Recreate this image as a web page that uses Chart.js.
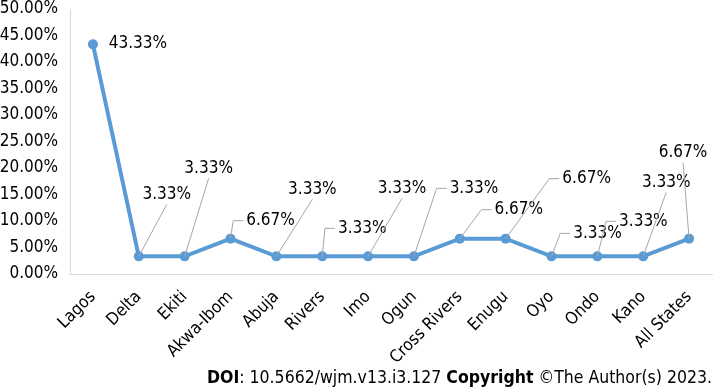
<!DOCTYPE html>
<html>
<head>
<meta charset="utf-8">
<script src="https://cdn.jsdelivr.net/npm/chart.js@4.4.1/dist/chart.umd.min.js"></script>
<style>
  html, body { margin: 0; padding: 0; background: #ffffff; }
  #wrap { position: relative; width: 717px; height: 389px; overflow: hidden; }
  canvas { display: block; }
  #doi { position: absolute; right: 5px; bottom: 2px; font-family: "DejaVu Sans Condensed", "DejaVu Sans", sans-serif; font-size: 17.5px; color: #000; white-space: nowrap; }
</style>
</head>
<body>
<div id="wrap">
  <canvas id="c" width="717" height="389"></canvas>
  <div id="doi"><b>DOI</b>: 10.5662/wjm.v13.i3.127 <b>Copyright</b> ©The Author(s) 2023.</div>
</div>
<script>
const categories = ['Lagos', 'Delta', 'Ekiti', 'Akwa-Ibom', 'Abuja', 'Rivers', 'Imo', 'Ogun', 'Cross Rivers', 'Enugu', 'Oyo', 'Ondo', 'Kano', 'All States'];
const percentValues = [43.33, 3.33, 3.33, 6.67, 3.33, 3.33, 3.33, 3.33, 6.67, 6.67, 3.33, 3.33, 3.33, 6.67];
const yTickValues = [0, 5, 10, 15, 20, 25, 30, 35, 40, 45, 50];
const yTickLabels = yTickValues.map(v => v.toFixed(2) + '%');
const dataLabels = percentValues.map(v => v.toFixed(2) + '%');

// label placement relative to each point: [dx, dy, leader type]
const labelPlacement = [
  [45, -1, 'none'], [28, -62, 'bottom'], [24, -88, 'bottom'], [40, -18, 'hook'],
  [36, -67, 'bottom'], [40, -28, 'hook'], [34, -68, 'bottom'], [60, -68, 'hook'],
  [59, -29, 'hook'], [81, -60, 'hook'], [46, -23, 'hook'], [46, -35, 'hook'],
  [23, -74, 'bottom'], [-6, -86, 'bottom']
];

const FONT = '"DejaVu Sans Condensed", "DejaVu Sans", sans-serif';

const labelPlugin = {
  id: 'leaderLabels',
  afterDatasetsDraw(chart) {
    const ctx = chart.ctx;
    const meta = chart.getDatasetMeta(0);
    ctx.save();
    ctx.font = '17px ' + FONT;
    ctx.textBaseline = 'middle';
    ctx.textAlign = 'center';
    meta.data.forEach((pt, i) => {
      const [dx, dy, type] = labelPlacement[i];
      const cx = pt.x + dx, cy = pt.y + dy;
      const w = ctx.measureText(dataLabels[i]).width;
      const left = cx - w / 2;
      ctx.strokeStyle = '#a6a6a6';
      ctx.lineWidth = 1;
      if (type === 'bottom') {
        ctx.beginPath();
        ctx.moveTo(pt.x, pt.y);
        ctx.lineTo(cx, cy + 10);
        ctx.stroke();
      } else if (type === 'hook') {
        ctx.beginPath();
        ctx.moveTo(pt.x, pt.y);
        ctx.lineTo(left - 13, cy);
        ctx.lineTo(left - 3, cy);
        ctx.stroke();
      }
      ctx.fillStyle = '#000000';
      ctx.fillText(dataLabels[i], cx, cy);
    });
    ctx.restore();
  }
};

new Chart(document.getElementById('c'), {
  type: 'line',
  data: {
    labels: categories,
    datasets: [{
      data: percentValues,
      borderColor: '#5b9bd5',
      backgroundColor: '#5b9bd5',
      borderWidth: 4,
      pointRadius: 5,
      pointBorderWidth: 0,
      pointBackgroundColor: '#5b9bd5',
      tension: 0,
      fill: false,
      clip: false
    }]
  },
  options: {
    responsive: false,
    animation: false,
    layout: { padding: { top: 9, right: 0, bottom: 0, left: 0 } },
    plugins: { legend: { display: false }, tooltip: { enabled: false } },
    scales: {
      x: {
        offset: true,
        grid: { display: false, drawTicks: false },
        border: { display: true, color: '#d9d9d9', width: 1 },
        ticks: {
          color: '#000',
          font: { family: FONT, size: 17 },
          maxRotation: 45, minRotation: 45,
          autoSkip: false,
          padding: 13
        },
        afterFit(scale) { scale.height = 115; }
      },
      y: {
        min: 0, max: 50,
        grid: { display: false, drawTicks: false },
        border: { display: true, color: '#d9d9d9', width: 1 },
        afterBuildTicks(scale) { scale.ticks = yTickValues.map(v => ({ value: v })); },
        ticks: {
          color: '#000',
          font: { family: FONT, size: 17, lineHeight: 1 },
          padding: 12,
          callback: (v) => yTickLabels[yTickValues.indexOf(v)]
        },
        afterFit(scale) { scale.width = 70; scale.paddingTop = 0; scale.paddingBottom = 0; }
      }
    }
  },
  plugins: [labelPlugin]
});
</script>
</body>
</html>
